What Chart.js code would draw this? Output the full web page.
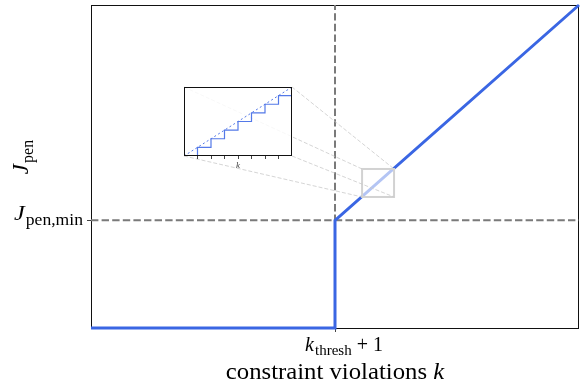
<!DOCTYPE html>
<html>
<head>
<meta charset="utf-8">
<script src="https://cdn.jsdelivr.net/npm/chart.js@4"></script>
<style>
  html, body { margin: 0; padding: 0; background: #fff; }
  #wrap { position: relative; width: 583px; height: 388px; }
  #main { position: absolute; left: 0; top: 0; }
  #inset { position: absolute; left: 183px; top: 86px; }
</style>
</head>
<body>
<div id="wrap">
  <canvas id="main" width="583" height="388"></canvas>
  <canvas id="inset" width="110" height="88"></canvas>
</div>
<script>
// Penalty curve: zero below the threshold, a jump to J_pen,min, then linear growth
const penaltyK = [0, 10, 10, 20];
const penaltyJ = [0, 0, 1, 3];

// Reference lines at the threshold and at the minimum penalty
const kThresh1 = 10;
const jPenMin = 1;
const axisK = [0, 20];
const axisJ = [0, 3];

// Region of the curve that is magnified in the inset
const zoomK = [11.11, 12.42];
const zoomJ = [1.217, 1.477];

// Inset: the discrete staircase and its continuous trend
const stairK = [0, 1, 2, 3, 4, 5, 6, 7, 8];
const stairJ = [0, 1, 2, 3, 4, 5, 6, 7, 7];
const trendK = [0, 8];
const trendJ = [0, 8];
const insetTicks = [1, 2, 3, 4, 5, 6, 7];

const SERIF = "'Liberation Serif', 'DejaVu Serif', serif";
const BLUE = '#3a66e3';
const DASH_GREY = '#7a7a7a';

function pts(xs, ys) { return xs.map((x, i) => ({ x: x, y: ys[i] })); }

// Draw a run of text pieces (italic / subscript) as one label
function drawMath(ctx, parts, x, y, opt) {
  const size = opt.size, subSize = opt.sub || Math.round(size * 0.72);
  const sx = opt.stretch || 1, drop = opt.drop || size * 0.25;
  const fontOf = p => (p.italic ? 'italic ' : '') + (p.sub ? subSize : size) + 'px ' + SERIF;
  let total = 0;
  parts.forEach(p => {
    ctx.font = fontOf(p);
    p.w = ctx.measureText(p.t).width * sx + (p.gap || 0);
    total += p.w;
  });
  let cx = opt.align === 'center' ? x - total / 2 : opt.align === 'right' ? x - total : x;
  ctx.textBaseline = 'alphabetic';
  ctx.textAlign = 'left';
  parts.forEach(p => {
    ctx.font = fontOf(p);
    ctx.save();
    ctx.translate(cx + (p.gap || 0), y + (p.sub ? drop : 0));
    ctx.scale(sx, 1);
    ctx.fillText(p.t, 0, 0);
    ctx.restore();
    cx += p.w;
  });
}

const insetBox = { left: 184, top: 87, right: 292, bottom: 156 };

const mainDecor = {
  id: 'mainDecor',
  beforeDatasetsDraw(chart) {
    const { ctx, chartArea: a } = chart;
    ctx.save();
    ctx.strokeStyle = '#111';
    ctx.lineWidth = 1;
    ctx.strokeRect(a.left + 0.5, a.top + 0.5, a.right - a.left - 1, a.bottom - a.top);
    ctx.restore();
  },
  afterDatasetsDraw(chart) {
    const { ctx, scales: { x, y } } = chart;
    const l = x.getPixelForValue(zoomK[0]), r = x.getPixelForValue(zoomK[1]);
    const t = y.getPixelForValue(zoomJ[1]), b = y.getPixelForValue(zoomJ[0]);
    ctx.save();
    // zoom window
    ctx.fillStyle = 'rgba(255,255,255,0.62)';
    ctx.fillRect(l, t, r - l, b - t);
    ctx.strokeStyle = '#d2d2d2';
    ctx.lineWidth = 2;
    ctx.strokeRect(l, t, r - l, b - t);
    // connectors from inset corners to the zoom window
    ctx.strokeStyle = '#cacaca';
    ctx.lineWidth = 0.8;
    ctx.setLineDash([4, 2]);
    const pairs = [
      [insetBox.left, insetBox.top, l, t],
      [insetBox.right, insetBox.top, r, t],
      [insetBox.left, insetBox.bottom, l, b],
      [insetBox.right, insetBox.bottom, r, b]
    ];
    pairs.forEach(p => { ctx.beginPath(); ctx.moveTo(p[0], p[1]); ctx.lineTo(p[2], p[3]); ctx.stroke(); });
    ctx.restore();
  },
  afterDraw(chart) {
    const { ctx, scales: { x, y } } = chart;
    ctx.save();
    ctx.fillStyle = '#000';
    // tick labels
    drawMath(ctx, [{ t: 'k', italic: true }, { t: 'thresh', sub: true, gap: 1 }, { t: '+', gap: 5 }, { t: '1', gap: 5 }],
      x.getPixelForValue(kThresh1) + 9, 351, { size: 20, sub: 15, drop: 4, align: 'center' });
    drawMath(ctx, [{ t: 'J', italic: true }, { t: 'pen,min', sub: true, gap: 1 }],
      83, y.getPixelForValue(jPenMin), { size: 22, sub: 16, drop: 5, stretch: 1.1, align: 'right' });
    // axis titles
    drawMath(ctx, [{ t: 'constraint violations ' }, { t: 'k', italic: true }], 335, 379,
      { size: 24, stretch: 1.03, align: 'center' });
    ctx.translate(28, 157);
    ctx.rotate(-Math.PI / 2);
    drawMath(ctx, [{ t: 'J', italic: true }, { t: 'pen', sub: true, gap: 1 }], 0, 0,
      { size: 23, sub: 16, drop: 5, align: 'center' });
    ctx.restore();
  }
};

new Chart(document.getElementById('main'), {
  type: 'line',
  data: {
    datasets: [
      {
        data: pts(penaltyK, penaltyJ),
        borderColor: BLUE, borderWidth: 3, pointRadius: 0, clip: false, order: 0,
        borderCapStyle: 'butt', borderJoinStyle: 'miter'
      },
      {
        data: pts([kThresh1, kThresh1], axisJ),
        borderColor: DASH_GREY, borderWidth: 2, borderDash: [7.4, 3.2], pointRadius: 0, order: 1
      },
      {
        data: pts(axisK, [jPenMin, jPenMin]),
        borderColor: DASH_GREY, borderWidth: 2, borderDash: [7.4, 3.2], pointRadius: 0, order: 1
      }
    ]
  },
  options: {
    responsive: false,
    animation: false,
    layout: { padding: { left: 0, top: 5, right: 4, bottom: 0 } },
    plugins: { legend: { display: false }, tooltip: { enabled: false } },
    scales: {
      x: {
        type: 'linear', min: axisK[0], max: axisK[1],
        border: { display: false },
        grid: { drawOnChartArea: false, drawTicks: true, tickLength: 4, color: '#444', lineWidth: 1 },
        ticks: { display: false },
        afterBuildTicks: s => { s.ticks = [{ value: kThresh1 }]; },
        afterFit: s => { s.height = 60; }
      },
      y: {
        type: 'linear', min: axisJ[0], max: axisJ[1],
        border: { display: false },
        grid: { drawOnChartArea: false, drawTicks: true, tickLength: 4, color: '#444', lineWidth: 1 },
        ticks: { display: false },
        afterBuildTicks: s => { s.ticks = [{ value: jPenMin }]; },
        afterFit: s => { s.width = 91; }
      }
    }
  },
  plugins: [mainDecor]
});

const insetDecor = {
  id: 'insetDecor',
  beforeDatasetsDraw(chart) {
    const { ctx, chartArea: a } = chart;
    ctx.save();
    ctx.fillStyle = 'rgba(255,255,255,0.82)';
    ctx.fillRect(a.left, a.top, a.right - a.left, a.bottom - a.top);
    ctx.restore();
  },
  afterDraw(chart) {
    const { ctx, chartArea: a, scales: { x } } = chart;
    ctx.save();
    ctx.strokeStyle = '#111';
    ctx.lineWidth = 1;
    ctx.strokeRect(a.left + 0.5, a.top + 0.5, a.right - a.left - 1, a.bottom - a.top - 1);
    ctx.fillStyle = '#444';
    drawMath(ctx, [{ t: 'k', italic: true }], x.getPixelForValue(4), a.bottom + 12, { size: 9, align: 'center' });
    ctx.restore();
  }
};

new Chart(document.getElementById('inset'), {
  type: 'line',
  data: {
    datasets: [
      {
        data: pts(stairK, stairJ), stepped: 'before',
        borderColor: '#5479e8', borderWidth: 1.2, pointRadius: 0, order: 1
      },
      {
        data: pts(trendK, trendJ),
        borderColor: '#5479e8', borderWidth: 1, borderDash: [2, 2.5], pointRadius: 0, order: 0
      }
    ]
  },
  options: {
    responsive: false,
    animation: false,
    layout: { padding: { left: 1, top: 1, right: 1, bottom: 0 } },
    plugins: { legend: { display: false }, tooltip: { enabled: false } },
    scales: {
      x: {
        type: 'linear', min: 0, max: 8,
        border: { display: false },
        grid: { drawOnChartArea: false, drawTicks: true, tickLength: 3, color: '#444', lineWidth: 1 },
        ticks: { display: false },
        afterBuildTicks: s => { s.ticks = insetTicks.map(v => ({ value: v })); },
        afterFit: s => { s.height = 18; }
      },
      y: { type: 'linear', min: 0, max: 8, display: false }
    }
  },
  plugins: [insetDecor]
});
</script>
</body>
</html>
